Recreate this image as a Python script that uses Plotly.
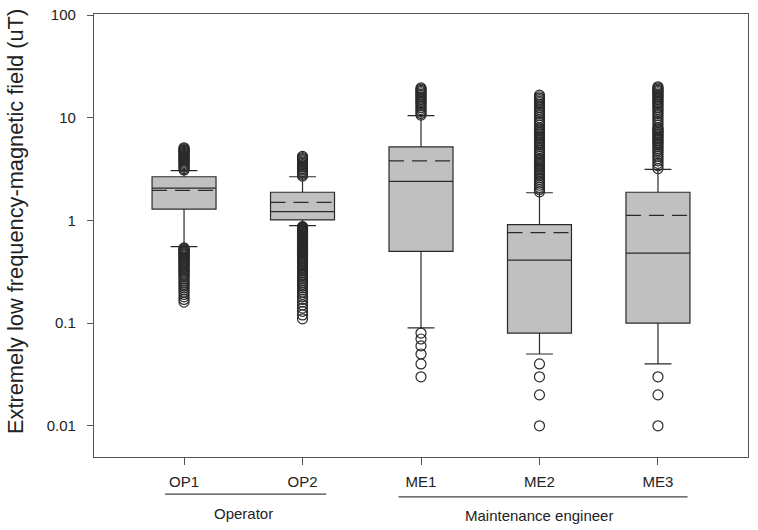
import plotly.graph_objects as go

# ---------------- data ----------------
categories = ["OP1", "OP2", "ME1", "ME2", "ME3"]
group_names = ["Operator", "Maintenance engineer"]
group_members = [["OP1", "OP2"], ["ME1", "ME2", "ME3"]]

q1 = [1.29, 1.01, 0.50, 0.08, 0.10]
median = [2.06, 1.22, 2.40, 0.41, 0.48]
q3 = [2.66, 1.88, 5.20, 0.91, 1.88]
mean = [1.96, 1.50, 3.80, 0.76, 1.12]
lower_fence = [0.555, 0.89, 0.09, 0.05, 0.04]
upper_fence = [3.06, 2.66, 10.5, 1.86, 3.14]

outliers_op1 = [3.1, 3.2, 3.3, 3.4, 3.5, 3.6, 3.7, 3.8, 3.9, 4.0, 4.1, 4.2, 4.3, 4.4,
                4.5, 4.6, 4.7, 4.8, 4.9, 5.0, 5.1,
                0.16, 0.17, 0.18, 0.19, 0.2, 0.21, 0.22, 0.23, 0.24, 0.25, 0.26, 0.27,
                0.28, 0.29, 0.3, 0.31, 0.32, 0.33, 0.34, 0.35, 0.36, 0.37, 0.38, 0.39,
                0.4, 0.41, 0.42, 0.43, 0.44, 0.45, 0.46, 0.47, 0.48, 0.49, 0.5, 0.51,
                0.52, 0.53, 0.54]
outliers_op2 = [2.7, 2.8, 2.9, 3.0, 3.1, 3.2, 3.3, 3.4, 3.5, 3.6, 3.7, 3.8, 3.9, 4.0,
                4.1, 4.2,
                0.11, 0.12, 0.13, 0.14, 0.15, 0.16, 0.17, 0.18, 0.19, 0.2, 0.21, 0.22,
                0.23, 0.24, 0.25, 0.26, 0.27, 0.28, 0.29, 0.3, 0.31, 0.32, 0.33, 0.34,
                0.35, 0.36, 0.37, 0.38, 0.39, 0.4, 0.41, 0.42, 0.43, 0.44, 0.45, 0.46,
                0.47, 0.48, 0.49, 0.5, 0.51, 0.52, 0.53, 0.54, 0.55, 0.56, 0.57, 0.58,
                0.59, 0.6, 0.61, 0.62, 0.63, 0.64, 0.65, 0.66, 0.67, 0.68, 0.69, 0.7,
                0.71, 0.72, 0.73, 0.74, 0.75, 0.76, 0.77, 0.78, 0.79, 0.8, 0.81, 0.82,
                0.83, 0.84, 0.85, 0.86, 0.87]
outliers_me1 = [10.6, 11, 11.5, 12, 12.5, 13, 13.5, 14, 14.5, 15, 15.5, 16, 16.5, 17,
                17.5, 18, 18.5, 19, 19.5,
                0.08, 0.07, 0.06, 0.05, 0.04, 0.03]
outliers_me2 = [1.9, 2.0, 2.1, 2.2, 2.3, 2.4, 2.5, 2.6, 2.7, 2.8, 2.9, 3.0, 3.1, 3.2,
                3.3, 3.4, 3.5, 3.6, 3.7, 3.8, 3.9, 4.0, 4.2, 4.4, 4.6, 4.8, 5.0, 5.2,
                5.4, 5.6, 5.8, 6.0, 6.2, 6.4, 6.6, 6.8, 7.0, 7.2, 7.4, 7.6, 7.8, 8.0,
                8.5, 9.0, 9.5, 10.0, 10.5, 11.0, 11.5, 12.0, 12.5, 13.0, 13.5, 14.0,
                14.5, 15.0, 15.5, 16.0, 16.6,
                0.04, 0.03, 0.02, 0.01]
outliers_me3 = [3.2, 3.4, 3.6, 3.8, 4.0, 4.2, 4.4, 4.6, 4.8, 5.0, 5.2, 5.4, 5.6, 5.8,
                6.0, 6.2, 6.4, 6.6, 6.8, 7.0, 7.2, 7.4, 7.6, 7.8, 8.0, 8.5, 9.0, 9.5,
                10.0, 10.5, 11.0, 11.5, 12.0, 12.5, 13.0, 13.5, 14.0, 14.5, 15.0,
                15.5, 16.0, 16.5, 17.0, 17.5, 18.0, 18.5, 19.0, 19.5, 20.0,
                0.03, 0.02, 0.01]
outliers = [outliers_op1, outliers_op2, outliers_me1, outliers_me2, outliers_me3]

y_tick_vals = [0.01, 0.1, 1, 10, 100]
y_tick_text = ["0.01", "0.1", "1", "10", "100"]
y_title = "Extremely low frequency-magnetic field (uT)"

# ---------------- figure ----------------
FONT = "Liberation Sans, Arial, sans-serif"
LINE = "#2a2a2a"
pos = list(range(len(categories)))
box_w = 0.54
half = box_w / 2

fig = go.Figure()

fig.add_trace(go.Box(
    x=pos, q1=q1, median=median, q3=q3,
    lowerfence=lower_fence, upperfence=upper_fence,
    width=box_w, whiskerwidth=0.42, boxpoints=False,
    fillcolor="#c0c0c0", line=dict(color=LINE, width=1.2),
    hoverinfo="skip",
))

# mean lines (dashed)
mx, my = [], []
for p, m in zip(pos, mean):
    mx += [p - half, p + half, None]
    my += [m, m, None]
fig.add_trace(go.Scatter(x=mx, y=my, mode="lines",
                         line=dict(color=LINE, width=1.2, dash="15px,8px"),
                         hoverinfo="skip"))

# outliers
ox, oy = [], []
for p, vals in zip(pos, outliers):
    ox += [p] * len(vals)
    oy += vals
fig.add_trace(go.Scatter(x=ox, y=oy, mode="markers",
                         marker=dict(symbol="circle-open", size=10, color=LINE,
                                     line=dict(width=1.2)),
                         hoverinfo="skip"))

# group underlines + labels
group_spans = [(-0.16, 1.20, -0.084, -0.128), (1.81, 4.25, -0.090, -0.131)]
for name, members, (x0, x1, yl, yt) in zip(group_names, group_members, group_spans):
    idx = [categories.index(m) for m in members]
    fig.add_shape(type="line", xref="x", yref="paper", x0=x0, x1=x1, y0=yl, y1=yl,
                  line=dict(color="#444", width=1.3))
    fig.add_annotation(x=(pos[idx[0]] + pos[idx[-1]]) / 2, y=yt, xref="x", yref="paper",
                       text=name, showarrow=False, xanchor="center", yanchor="middle",
                       font=dict(family=FONT, size=15, color="#222"))

fig.add_annotation(x=-0.1208, y=0.5327, xref="paper", yref="paper", text=y_title,
                   textangle=-90, showarrow=False, xanchor="center", yanchor="middle",
                   borderpad=0,
                   font=dict(family=FONT, size=21.8, color="#222"))

fig.update_layout(
    width=758, height=530,
    margin=dict(l=94, r=10, t=14, b=73),
    paper_bgcolor="white", plot_bgcolor="white",
    showlegend=False,
    font=dict(family=FONT, color="#222"),
    xaxis=dict(range=[-0.76, 4.76], tickvals=pos, ticktext=categories,
               showline=True, mirror=True, linecolor="#555", linewidth=1.3,
               ticks="outside", ticklen=7, tickcolor="#555", tickwidth=1.2,
               showgrid=False, zeroline=False, ticklabelstandoff=4,
               tickfont=dict(family=FONT, size=15, color="#222")),
    yaxis=dict(type="log", range=[-2.304, 2.01], tickvals=y_tick_vals, ticktext=y_tick_text,
               showline=True, mirror=True, linecolor="#555", linewidth=1.3,
               ticks="outside", ticklen=6, tickcolor="#555", tickwidth=1.2,
               showgrid=False, zeroline=False, ticklabelstandoff=8,
               ticklabeloverflow="allow", automargin=False,
               tickfont=dict(family=FONT, size=15, color="#222")),
)

# remove the browser's default 8px page margin so the figure sits at (0, 0)
fig.write_html("out.html",
               config={"displayModeBar": False},
               post_script="document.body.style.margin='0';document.body.style.overflow='hidden';")
